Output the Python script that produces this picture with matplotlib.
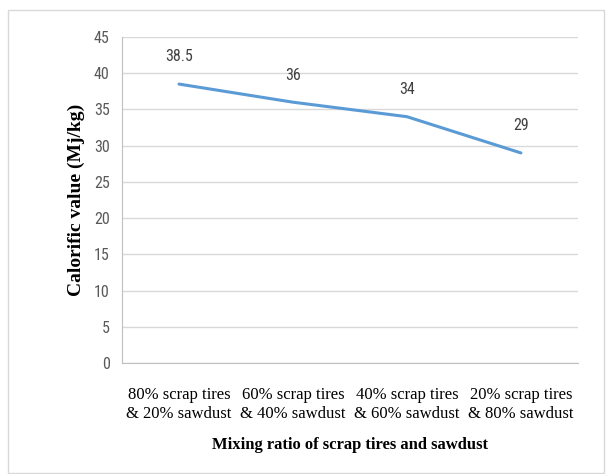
import matplotlib.pyplot as plt
from matplotlib.patches import Rectangle

# mixture ratios and measured calorific values
mixes = ['80% scrap tires\n& 20% sawdust',
         '60% scrap tires\n& 40% sawdust',
         '40% scrap tires\n& 60% sawdust',
         '20% scrap tires\n& 80% sawdust']
calorific = [38.5, 36, 34, 29]
value_labels = ['38.5', '36', '34', '29']
yticks = [0, 5, 10, 15, 20, 25, 30, 35, 40, 45]

tick_font = ['Roboto Condensed', 'Liberation Sans Narrow', 'DejaVu Sans']
serif_font = ['Liberation Serif', 'DejaVu Serif']

fig = plt.figure(figsize=(6.07, 4.74), dpi=100)
ax = fig.add_axes([0.201, 0.234, 0.751, 0.688])

# chart frame
fig.patches.append(Rectangle((8/607, 0.002), 596/607, 1 - 10/474 - 0.002,
                             transform=fig.transFigure, fill=False,
                             edgecolor='#D9D9D9', linewidth=1.0))

x = list(range(len(mixes)))
ax.plot(x, calorific, color='#5B9BD5', linewidth=2.2, solid_capstyle='round')
for xi, yi, lab in zip(x, calorific, value_labels):
    ax.annotate(lab, (xi, yi), xytext=(0, 19.5), textcoords='offset points',
                ha='center', va='center', fontsize=11.5, color='#404040',
                family=tick_font)

ax.set_xlim(-0.5, len(mixes) - 0.5)
ax.set_ylim(0, 45)
ax.set_yticks(yticks)
ax.set_yticklabels([str(v) for v in yticks], family=tick_font, fontsize=11.5, color='#595959')
ax.set_xticks(x)
ax.set_xticklabels(mixes, family=serif_font, fontsize=12, linespacing=1.25)
ax.tick_params(axis='both', length=0)
ax.tick_params(axis='y', pad=9)
ax.tick_params(axis='x', pad=17)

ax.grid(axis='y', color='#D9D9D9', linewidth=1.0)
ax.set_axisbelow(True)
for s in ['top', 'right']:
    ax.spines[s].set_visible(False)
ax.spines['left'].set_color('#BFBFBF')
ax.spines['bottom'].set_color('#BFBFBF')

ax.set_ylabel('Calorific value (Mj/kg)', family=serif_font, fontweight='bold',
              fontsize=14, labelpad=6)
ax.set_xlabel('Mixing ratio of scrap tires and sawdust', family=serif_font,
              fontweight='bold', fontsize=12, labelpad=11)

fig.savefig('out.png', dpi=100)
